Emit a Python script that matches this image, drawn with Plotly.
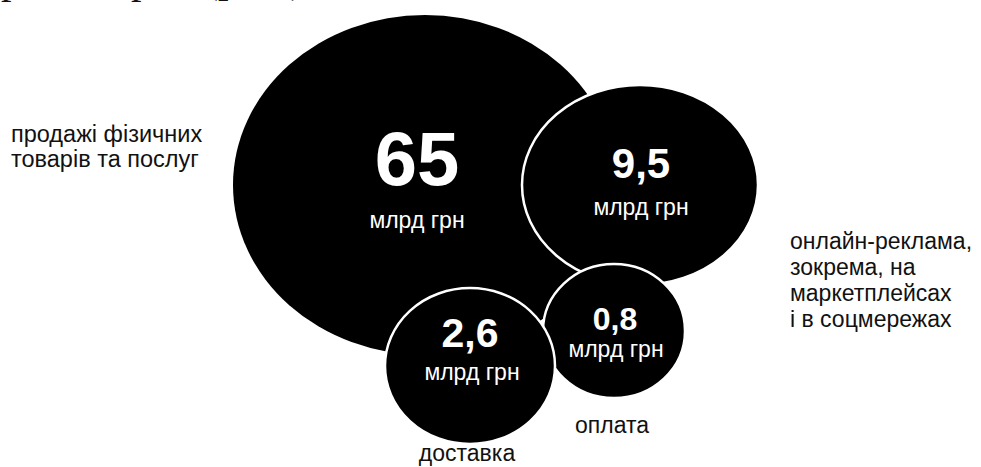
import plotly.graph_objects as go

# ---- data ----
categories = ["продажі фізичних товарів та послуг",
              "онлайн-реклама, зокрема, на маркетплейсах і в соцмережах",
              "доставка",
              "оплата"]
values = [65, 9.5, 2.6, 0.8]
unit = "млрд грн"
category_lines = [["продажі фізичних", "товарів та послуг"],
                  ["онлайн-реклама,", "зокрема, на", "маркетплейсах", "і в соцмережах"],
                  ["доставка"],
                  ["оплата"]]

# ---- layout geometry (pixel-like data coords) ----
# bubble centre x, centre y, radius x, radius y
bubble_geom = [(425, 185, 192, 170), (640, 185, 118, 100), (470, 366, 85, 78), (614, 331, 71, 67)]
draw_order = [0, 1, 3, 2]
num_pos = [(417, 166), (641, 167), (470, 337), (615, 322)]
num_size = [76, 42, 41, 32]
unit_pos = [(417, 222), (641, 209), (472, 374), (616, 351)]
label_anchor = [(11, 136, 25, "middle right", 23.5), (790, 243, 26.2, "middle right", 23),
                (467, 455, 0, "middle center", 23), (612, 427, 0, "middle center", 23)]

SANS = "Liberation Sans, Arial, sans-serif"

def fmt(v):
    s = f"{v:g}"
    return s.replace(".", ",")

fig = go.Figure()

shapes = []
for i in draw_order:
    cx, cy, rx, ry = bubble_geom[i]
    shapes.append(dict(type="circle", xref="x", yref="y",
                       x0=cx - rx, x1=cx + rx, y0=cy - ry, y1=cy + ry,
                       fillcolor="black",
                       line=dict(color="white", width=0 if i == 0 else 2.5),
                       layer="below"))

# numbers
fig.add_trace(go.Scatter(
    x=[p[0] for p in num_pos], y=[p[1] for p in num_pos],
    mode="text", text=[fmt(v) for v in values],
    textposition="middle center",
    textfont=dict(family=SANS, size=num_size, color="white", weight="bold"),
    hoverinfo="skip", showlegend=False, cliponaxis=False))

# units
fig.add_trace(go.Scatter(
    x=[p[0] for p in unit_pos], y=[p[1] for p in unit_pos],
    mode="text", text=[unit] * len(values),
    textposition="middle center",
    textfont=dict(family=SANS, size=23, color="white"),
    hoverinfo="skip", showlegend=False, cliponaxis=False))

# category labels
for lines, (ax, ay, step, pos, fs) in zip(category_lines, label_anchor):
    fig.add_trace(go.Scatter(
        x=[ax] * len(lines), y=[ay + k * step for k in range(len(lines))],
        mode="text", text=lines, textposition=pos,
        textfont=dict(family=SANS, size=fs, color="#111111"),
        hoverinfo="skip", showlegend=False, cliponaxis=False))

# cropped document text at the very top (only descenders visible)
annotations = []
for tx, t in [(0, "р"), (130, "р"), (203, "(рис.)")]:
    annotations.append(dict(
        x=tx, y=2.5, xref="x", yref="y", text=t, showarrow=False,
        xanchor="left", yanchor="bottom", borderpad=0,
        font=dict(family="Liberation Serif, Times New Roman, serif", size=42, color="#111111")))

fig.update_layout(
    width=981, height=467,
    margin=dict(l=0, r=0, t=0, b=0),
    paper_bgcolor="white", plot_bgcolor="white",
    shapes=shapes,
    annotations=annotations,
    xaxis=dict(range=[0, 981], visible=False, fixedrange=True),
    yaxis=dict(range=[467, 0], visible=False, fixedrange=True),
    showlegend=False,
)

fig.write_html("out.html")
